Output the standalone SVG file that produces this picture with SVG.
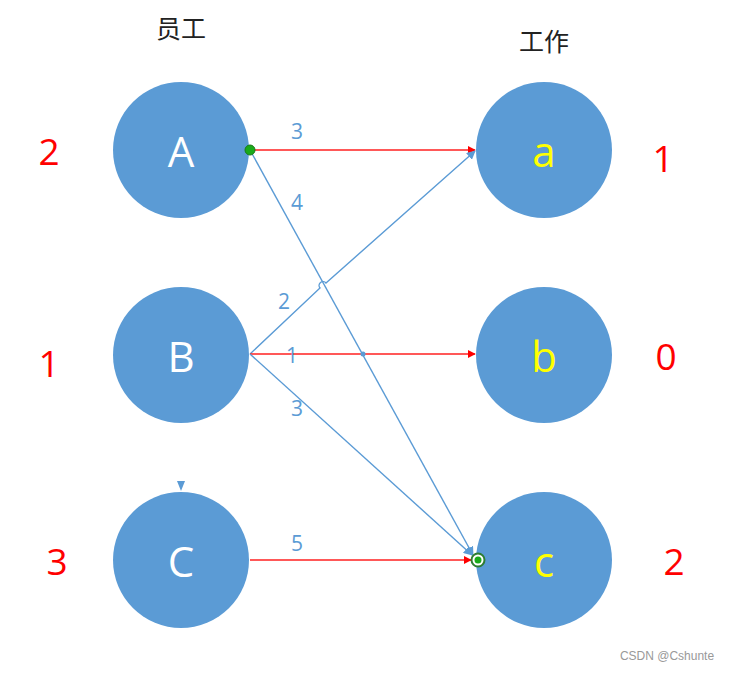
<svg xmlns="http://www.w3.org/2000/svg" width="731" height="673" viewBox="0 0 731 673">
<defs>
<style>
.node{fill:#5b9bd5}
.up{fill:#fff;font-family:"Open Sans","Liberation Sans",sans-serif;font-size:42px;text-anchor:middle;dominant-baseline:central}
.lo{fill:#ffff00;font-family:"Open Sans","Liberation Sans",sans-serif;font-size:42px;text-anchor:middle;dominant-baseline:central}
.num{fill:#ff0000;font-family:"Open Sans","Liberation Sans",sans-serif;font-size:37px;text-anchor:middle;dominant-baseline:central}
.w{fill:#5b9bd5;font-family:"Open Sans","Liberation Sans",sans-serif;font-size:21px;text-anchor:middle;dominant-baseline:central}
.title{fill:#222;font-family:"Noto Sans CJK SC",sans-serif;font-size:25px;text-anchor:middle;dominant-baseline:central}
.red{stroke:#ff2020;stroke-width:1.6;fill:none}
.blue{stroke:#5b9bd5;stroke-width:1.4;fill:none}
</style>
<marker id="ar" viewBox="0 0 10 10" refX="9" refY="5" markerWidth="8" markerHeight="8" markerUnits="userSpaceOnUse" orient="auto"><path d="M0,0L10,5L0,10z" fill="#ff0000"/></marker>
<marker id="ab" viewBox="0 0 10 10" refX="9" refY="5" markerWidth="9" markerHeight="9" markerUnits="userSpaceOnUse" orient="auto"><path d="M0,0L10,5L0,10z" fill="#5b9bd5"/></marker>
</defs>
<text class="title" x="181" y="27">员工</text>
<text class="title" x="544" y="40">工作</text>
<g id="nA"><circle class="node" cx="181" cy="150" r="68"/><text class="up" x="181" y="150">A</text></g>
<g id="nB"><circle class="node" cx="181" cy="355" r="68"/><text class="up" x="181" y="355">B</text></g>
<g id="nC"><circle class="node" cx="181" cy="560" r="68"/><text class="up" x="181" y="560">C</text><path d="M177,481L185,481L181,491z" fill="#5b9bd5"/></g>
<g id="na"><circle class="node" cx="544" cy="150" r="68"/><text class="lo" x="544" y="150">a</text></g>
<g id="nb"><circle class="node" cx="544" cy="355" r="68"/><text class="lo" x="544" y="355">b</text></g>
<g id="nc"><circle class="node" cx="544" cy="560" r="68"/><text class="lo" x="544" y="560">c</text></g>
<g id="edges">
<line class="red" x1="250" y1="150" x2="475" y2="150" marker-end="url(#ar)"/>
<line class="blue" x1="250" y1="150" x2="473" y2="555" marker-end="url(#ab)"/>
<path class="blue" d="M250,354L320,288A3,3 0 0 1 326,283L475,151" marker-end="url(#ab)"/>
<line class="red" x1="250" y1="354" x2="475" y2="354" marker-end="url(#ar)"/>
<line class="blue" x1="250" y1="354" x2="472" y2="555" marker-end="url(#ab)"/>
<line class="red" x1="250" y1="560" x2="471" y2="560" marker-end="url(#ar)"/>
<circle cx="363" cy="354" r="2.5" fill="#5b9bd5"/>
<circle cx="250" cy="150" r="5" fill="#1aaa1a" stroke="#1a7a1a" stroke-width="1"/>
<circle cx="478" cy="560" r="6.5" fill="#fff" stroke="#2e7d32" stroke-width="2"/>
<circle cx="478" cy="560" r="3.5" fill="#1aaa1a"/>
</g>
<text class="w" x="297" y="131">3</text>
<text class="w" x="297" y="202">4</text>
<text class="w" x="284" y="301">2</text>
<text class="w" x="292" y="355">1</text>
<text class="w" x="297" y="408">3</text>
<text class="w" x="297" y="543">5</text>
<text class="num" x="49" y="150">2</text>
<text class="num" x="49" y="362">1</text>
<text class="num" x="57" y="560">3</text>
<text class="num" x="663" y="157">1</text>
<text class="num" x="666" y="355">0</text>
<text class="num" x="674" y="560">2</text>
<text x="667" y="660" font-family="Liberation Sans,sans-serif" font-size="12" fill="#999" text-anchor="middle">CSDN @Cshunte</text>
</svg>
